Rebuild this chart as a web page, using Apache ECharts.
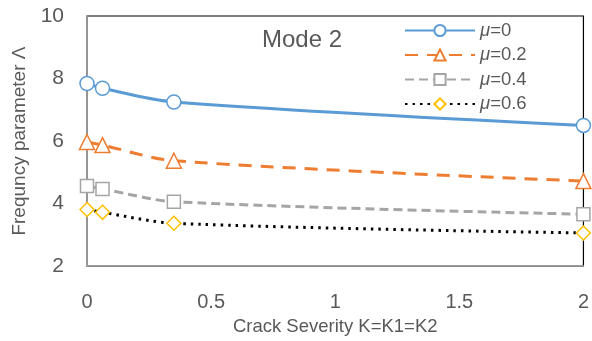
<!DOCTYPE html>
<html><head><meta charset="utf-8">
<script src="https://cdn.jsdelivr.net/npm/echarts@6/dist/echarts.min.js"></script>
<style>html,body{margin:0;padding:0;background:#fff}#c{width:592px;height:341px}</style>
</head><body><div id="c"></div>
<script>
const xValues = [0, 0.0625, 0.35, 2];
const mu0 = [7.84, 7.69, 7.25, 6.5];
const mu02 = [5.97, 5.87, 5.37, 4.72];
const mu04 = [4.56, 4.47, 4.06, 3.66];
const mu06 = [3.81, 3.72, 3.37, 3.06];
const seriesNames = ['μ=0', 'μ=0.2', 'μ=0.4', 'μ=0.6'];
const xTicks = [0, 0.5, 1, 1.5, 2];
const yTicks = [2, 4, 6, 8, 10];

const font = 'Liberation Sans';
const pts = a => a.map((v, i) => [xValues[i], v]);
function mk(name, data, color, lineType, width, symbol, size, symColor) {
  return {
    name, type: 'line', data: pts(data), smooth: 0.3,
    symbol, symbolSize: size,
    lineStyle: { color, width, type: lineType },
    itemStyle: { color: '#fff', borderColor: symColor || color, borderWidth: 1.5 },
    emphasis: { disabled: true }
  };
}
const chart = echarts.init(document.getElementById('c'));
chart.setOption({
  animation: false,
  backgroundColor: '#fff',
  grid: { left: 87, right: 6, top: 16, bottom: 69, show: true, borderColor: '#000', borderWidth: 1.2 },
  title: { text: 'Mode 2', left: 257, top: 23, textStyle: { fontFamily: font, fontSize: 24, fontWeight: 'normal', color: '#595959' } },
  legend: {
    left: 399, top: 16, orient: 'vertical', itemWidth: 70, itemHeight: 14, itemGap: 5.5,
    data: seriesNames,
    formatter: n => '{i|μ}{t|' + n.slice(1) + '}',
    textStyle: { fontFamily: font, fontSize: 18.5, color: '#595959',
      rich: { i: { fontStyle: 'italic', fontFamily: font, fontSize: 18.5, color: '#595959' },
              t: { fontFamily: font, fontSize: 18.5, color: '#595959' } } }
  },
  xAxis: {
    type: 'value', min: 0, max: 2, interval: 0.5,
    name: 'Crack Severity K=K1=K2', nameLocation: 'middle', nameGap: 50,
    nameTextStyle: { fontFamily: font, fontSize: 18.5, color: '#595959' },
    axisLine: { show: true, onZero: false, lineStyle: { color: '#a6a6a6', width: 1.5 } },
    axisTick: { show: false }, splitLine: { show: false },
    axisLabel: { fontFamily: font, fontSize: 20, color: '#595959', margin: 26,
      formatter: v => xTicks.includes(v) ? String(v) : '' }
  },
  yAxis: {
    type: 'value', min: 2, max: 10, interval: 2,
    name: 'Frequncy parameter Λ', nameLocation: 'middle', nameGap: 57,
    nameTextStyle: { fontFamily: font, fontSize: 19, color: '#595959' },
    axisLine: { show: true, lineStyle: { color: '#a6a6a6', width: 1.5 } },
    axisTick: { show: false }, splitLine: { show: false },
    axisLabel: { fontFamily: font, fontSize: 21, color: '#595959', margin: 23,
      formatter: v => yTicks.includes(v) ? String(v) : '' }
  },
  series: [
    mk(seriesNames[0], mu0, '#5b9bd5', 'solid', 3, 'circle', 14),
    mk(seriesNames[1], mu02, '#ed7d31', [13, 9], 3, 'triangle', 15),
    mk(seriesNames[2], mu04, '#a5a5a5', [9, 5], 3, 'rect', 13),
    mk(seriesNames[3], mu06, '#000000', [2.5, 5], 3, 'diamond', 14, '#ffc000')
  ]
});
</script></body></html>
